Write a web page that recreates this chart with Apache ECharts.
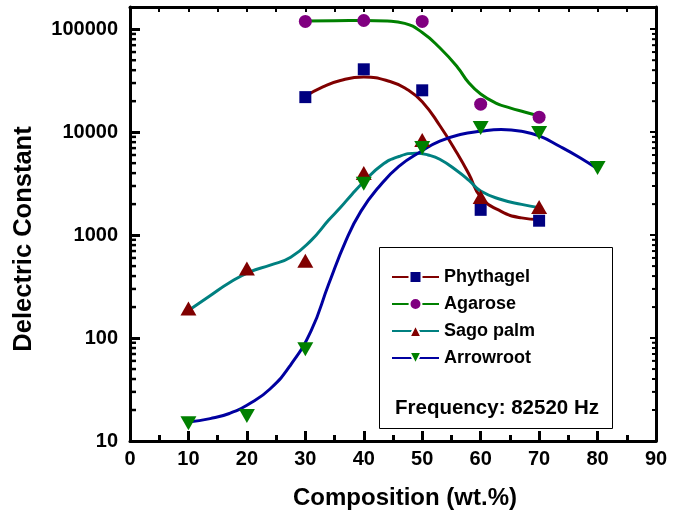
<!DOCTYPE html>
<html><head><meta charset="utf-8">
<script src="https://cdn.jsdelivr.net/npm/echarts@6/dist/echarts.min.js"></script>
<style>html,body{margin:0;padding:0;background:#fff}#c{width:680px;height:515px}</style>
</head><body><div id="c"></div>
<script>
// measured points (composition wt.% vs dielectric constant)
const compositions = [10, 20, 30, 40, 50, 60, 70, 80];
const phythagel = [null, null, 21900, 40800, 25500, 1760, 1380, null];
const agarose   = [null, null, 119000, 121600, 119000, 18700, 14000, null];
const sagoPalm  = [194, 473, 565, 4020, 8380, 2350, 1880, null];
const arrowroot = [14.9, 17.5, 77.7, 3150, 7020, 10960, 9800, 4490];

// fitted curves
const phythagelFitX = [30, 33, 36, 40, 44.5, 47.5, 50, 53, 56, 58, 60, 63.5, 67, 70];
const phythagelFitY = [22300, 27500, 31800, 34300, 31100, 25800, 19800, 11600, 6200, 3900, 2350, 1700, 1470, 1420];
const agaroseFitX = [30, 35, 40, 44, 47, 50, 53, 56, 58, 60, 62.5, 65, 67.5, 70];
const agaroseFitY = [120000, 121000, 121500, 120000, 114000, 93000, 66000, 43000, 30000, 23500, 19300, 17200, 15700, 14400];
const sagoFitX = [10, 13.7, 17, 20.5, 24, 27.5, 31, 34, 36, 38, 40, 43, 46, 49, 51, 53, 56, 58, 60, 63.5, 67, 70];
const sagoFitY = [185, 258, 345, 440, 511, 610, 890, 1400, 1850, 2500, 3300, 4750, 5800, 6250, 6000, 5450, 4200, 3400, 2680, 2220, 1990, 1850];
const arrowFitX = [10, 13.7, 17, 20.5, 24, 27.5, 31, 34, 37, 39.5, 42.5, 46, 50, 53, 56.5, 60, 63.5, 67, 70, 73.5, 77, 80];
const arrowFitY = [15.3, 16.5, 18.5, 23.1, 32.2, 55, 118, 335, 900, 1700, 2900, 4650, 6600, 8170, 9480, 10200, 10600, 10200, 9200, 7300, 5650, 4400];

const yMajorLabels = [10, 100, 1000, 10000, 100000];
const yMinorTicks = [20,30,40,50,60,70,80,90, 200,300,400,500,600,700,800,900,
  2000,3000,4000,5000,6000,7000,8000,9000, 20000,30000,40000,50000,60000,70000,80000,90000];

const FONT = '"Liberation Sans", Arial, sans-serif';
const zip = (xs, ys) => xs.map((x, i) => [x, ys[i]]);
const pts = ys => compositions.map((x, i) => [x, ys[i]]).filter(p => p[1] != null);

const chart = echarts.init(document.getElementById('c'), null, {renderer: 'canvas'});

function fitSeries(name, xs, ys, lineColor, markColor, symbol, rotate) {
  return {
    name, type: 'line', data: zip(xs, ys), smooth: 0.5, showSymbol: false,
    symbol, symbolRotate: rotate || 0, symbolSize: 10,
    lineStyle: {color: lineColor, width: 3},
    itemStyle: {color: markColor},
    emphasis: {disabled: true}, silent: true, z: 3
  };
}
function markSeries(name, ys, color, symbol, size, rotate) {
  return {
    name, type: 'scatter', data: pts(ys), symbol, symbolSize: size, symbolRotate: rotate || 0,
    itemStyle: {color, opacity: 1}, emphasis: {disabled: true}, silent: true, z: 5
  };
}

const option = {
  animation: false,
  backgroundColor: '#fff',
  grid: {left: 130, right: 24, top: 7, bottom: 73},
  xAxis: [{
    type: 'value', min: 0, max: 90, interval: 10, position: 'bottom',
    name: 'Composition (wt.%)', nameLocation: 'middle', nameGap: 45,
    nameTextStyle: {fontSize: 24, fontWeight: 'bold', color: '#000', fontFamily: FONT, padding: [0, 0, 0, 24]},
    axisLine: {show: true, onZero: false, lineStyle: {color: '#000', width: 3}},
    axisTick: {show: true, inside: true, length: 10, lineStyle: {color: '#000', width: 3}},
    minorTick: {show: true, splitNumber: 2, length: 6, lineStyle: {color: '#000', width: 3}},
    axisLabel: {fontSize: 20, fontWeight: 'bold', color: '#000', fontFamily: FONT, margin: 8},
    splitLine: {show: false}
  }, {
    type: 'value', min: 0, max: 90, interval: 5, position: 'top',
    axisLine: {show: true, onZero: false, lineStyle: {color: '#000', width: 3}},
    axisTick: {show: true, inside: true, length: 5, lineStyle: {color: '#000', width: 2}},
    axisLabel: {show: false}, splitLine: {show: false}
  }],
  yAxis: [{
    type: 'log', logBase: 10, min: 10, max: 164400, position: 'left',
    name: 'Delectric Constant', nameLocation: 'middle', nameGap: 93,
    nameTextStyle: {fontSize: 25.5, fontWeight: 'bold', color: '#000', fontFamily: FONT, padding: [0, 30, 0, 0]},
    axisLine: {show: true, onZero: false, lineStyle: {color: '#000', width: 3}},
    axisTick: {show: true, inside: true, length: 10, lineStyle: {color: '#000', width: 3}},
    axisLabel: {fontSize: 20, fontWeight: 'bold', color: '#000', fontFamily: FONT, margin: 12,
      showMaxLabel: false,
      formatter: v => yMajorLabels.some(m => Math.abs(m - v) / m < 1e-6) ? String(Math.round(v)) : ''},
    splitLine: {show: false}
  }, {
    type: 'log', logBase: 10, min: 10, max: 164400, position: 'right',
    axisLine: {show: true, onZero: false, lineStyle: {color: '#000', width: 3}},
    axisTick: {show: true, inside: true, length: 6, lineStyle: {color: '#000', width: 2}},
    axisLabel: {show: false}, splitLine: {show: false}
  }],
  legend: {
    data: ['Phythagel', 'Agarose', 'Sago palm', 'Arrowroot'],
    orient: 'vertical', left: 391, top: 268, padding: 0,
    itemWidth: 47, itemHeight: 15, itemGap: 9,
    selectedMode: false,
    itemStyle: {borderColor: '#fff', borderWidth: 2},
    textStyle: {fontSize: 18, fontWeight: 'bold', color: '#000', fontFamily: FONT}
  },
  graphic: [{
    type: 'rect', left: 379, top: 247, z: 1,
    shape: {width: 233, height: 181},
    style: {fill: '#fff', stroke: '#000', lineWidth: 1}
  }, {
    type: 'text', left: 395, top: 398, z: 10,
    style: {text: 'Frequency: 82520 Hz', fontSize: 20.5, fontWeight: 'bold', fill: '#000', fontFamily: FONT}
  }],
  series: [
    fitSeries('Phythagel', phythagelFitX, phythagelFitY, '#800000', '#000080', 'rect'),
    fitSeries('Agarose', agaroseFitX, agaroseFitY, '#008000', '#800080', 'circle'),
    fitSeries('Sago palm', sagoFitX, sagoFitY, '#008080', '#800000', 'triangle'),
    fitSeries('Arrowroot', arrowFitX, arrowFitY, '#0000A0', '#008000', 'triangle', 180),
    markSeries('Phythagel data', phythagel, '#000080', 'rect', 12),
    markSeries('Agarose data', agarose, '#800080', 'circle', 13),
    markSeries('Sago palm data', sagoPalm, '#800000', 'triangle', [16, 14]),
    markSeries('Arrowroot data', arrowroot, '#008000', 'triangle', [16, 14], 180),
    {
      name: 'minor ticks', type: 'custom', silent: true, z: 6, clip: false,
      data: yMinorTicks.map(v => [0, v]),
      encode: {x: 0, y: 1},
      renderItem: (params, api) => {
        const v = api.value(1);
        const pL = api.coord([0, v]);
        const pR = api.coord([90, v]);
        return {type: 'group', children: [
          {type: 'line', shape: {x1: pL[0], y1: pL[1], x2: pL[0] + 6, y2: pL[1]}, style: {stroke: '#000', lineWidth: 2.5}},
          {type: 'line', shape: {x1: pR[0], y1: pR[1], x2: pR[0] - 4, y2: pR[1]}, style: {stroke: '#000', lineWidth: 2}}
        ]};
      }
    }
  ]
};
chart.setOption(option);
</script>
</body></html>
